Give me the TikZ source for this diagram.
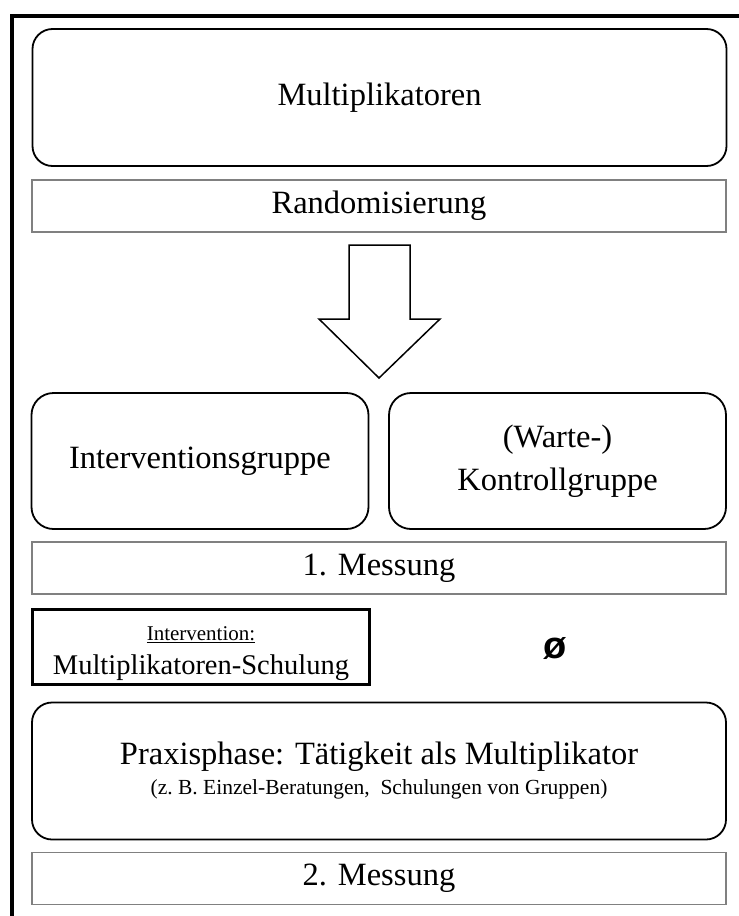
\documentclass[tikz,border=0pt]{standalone}
\usepackage{fontspec}
\setmainfont{Liberation Serif}
\newfontfamily\symfont{Liberation Sans}
\usetikzlibrary{positioning}

\begin{document}
\begin{tikzpicture}[x=1pt,y=-1pt,
  roundbox/.style={draw=black,line width=1.8pt,rounded corners=20pt,minimum width=694pt,minimum height=137pt,inner sep=0pt,align=center,font=\fontsize{32.5}{43}\selectfont},
  halfbox/.style={roundbox,rounded corners=22pt,minimum width=337pt,minimum height=136pt},
  graybox/.style={draw=gray,line width=1.5pt,minimum width=694pt,minimum height=52pt,inner sep=0pt,font=\fontsize{32.5}{40}\selectfont},
  schulbox/.style={draw=black,line width=3.5pt,minimum width=337pt,minimum height=75pt,inner sep=0pt,align=center,font=\fontsize{28.5}{34}\selectfont}]
 \useasboundingbox (0,0) rectangle (739,916);
 \draw[line width=4pt](12,916)--(12,15.5)--(739,15.5);
 \node[roundbox] (multi) at (379.5,97.5) {Multiplikatoren};
 \node[graybox] (rand) at (379,206) {Randomisierung};
 \draw[line width=1.5pt,line join=miter](349,245)--(410,245)--(410,319)--(440,319)--(379,378)--(319,319)--(349,319)--cycle;
 \node[halfbox] (intgr) at (200,461) {Interventionsgruppe};
 \node[halfbox] (kontr) at (557.5,461) {(Warte-)\\Kontrollgruppe};
 \node[graybox] (mess1) at (379,568) {1. Messung};
 \node[schulbox] (schul) at (201,647) {{\fontsize{21}{24}\selectfont\rule{0pt}{27pt}\underline{Intervention:}}\\{Multiplikatoren-Schulung}};
 \node (leer) at (555,648) {\symfont\bfseries\fontsize{38}{44}\selectfont ø};
 \node[roundbox,font=\fontsize{32.5}{30}\selectfont] (praxis) at (379,771) {Praxisphase: Tätigkeit als Multiplikator\\{\fontsize{21.5}{26}\selectfont (z.\ B. Einzel-Beratungen,\ \ Schulungen von Gruppen)}};
 \node[graybox] (mess2) at (379,878.5) {2. Messung};
\end{tikzpicture}
\end{document}
